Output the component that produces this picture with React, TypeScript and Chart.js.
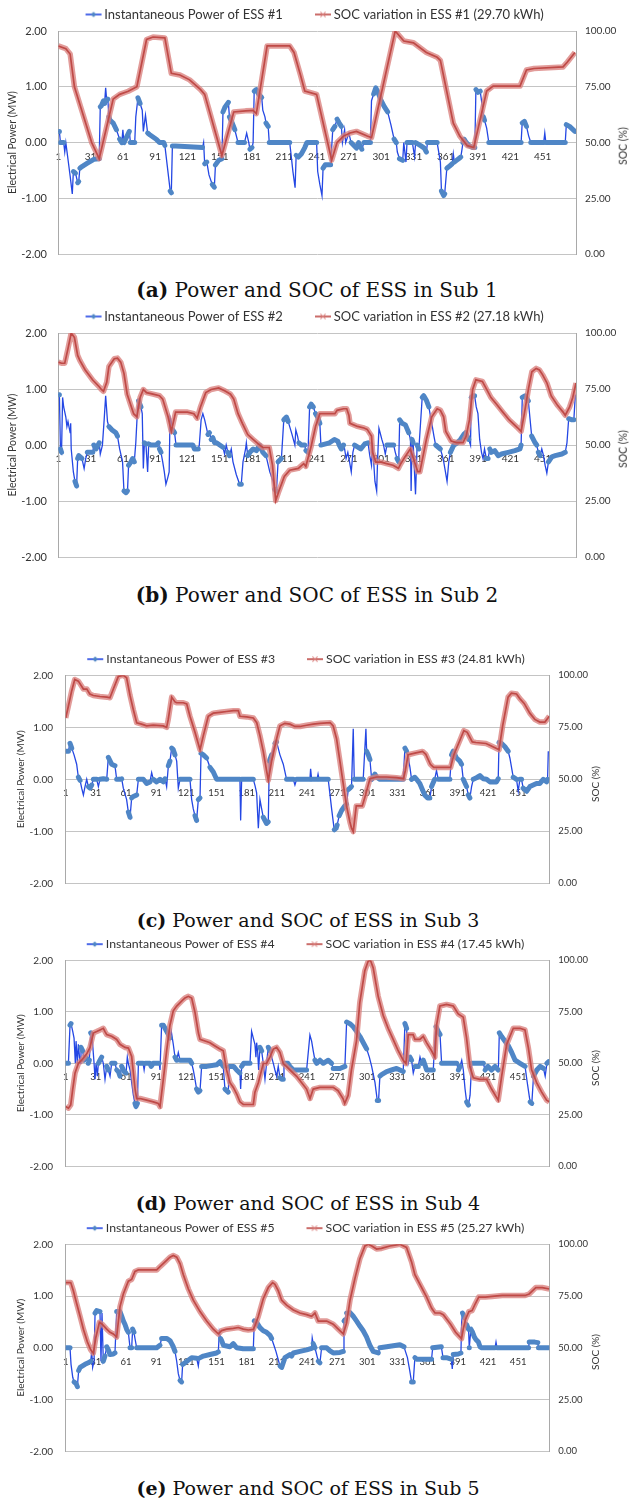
import React, { useEffect, useRef } from 'react';
import { Chart, registerables } from 'chart.js';

Chart.register(...registerables);

// ---------- shared axis values ----------
const X_MIN = 1;
const X_MAX = 482;
const X_TICK_LABELS = [1, 31, 61, 91, 121, 151, 181, 211, 241, 271, 301, 331, 361, 391, 421, 451];
const POWER_TICKS = [-2, -1, 0, 1, 2];
const SOC_TICKS = [0, 25, 50, 75, 100];

const POWER_LABELS = [
  'Instantaneous Power of ESS #1',
  'Instantaneous Power of ESS #2',
  'Instantaneous Power of ESS #3',
  'Instantaneous Power of ESS #4',
  'Instantaneous Power of ESS #5',
];
const SOC_LABELS = [
  'SOC variation in ESS #1 (29.70 kWh)',
  'SOC variation in ESS #2 (27.18 kWh)',
  'SOC variation in ESS #3 (24.81 kWh)',
  'SOC variation in ESS #4 (17.45 kWh)',
  'SOC variation in ESS #5 (25.27 kWh)',
];
const CAPTION_TAGS = ['(a)', '(b)', '(c)', '(d)', '(e)'];
const CAPTION_TEXTS = [
  'Power and SOC of ESS in Sub 1',
  'Power and SOC of ESS in Sub 2',
  'Power and SOC of ESS in Sub 3',
  'Power and SOC of ESS in Sub 4',
  'Power and SOC of ESS in Sub 5',
];
const LEFT_TITLE = 'Electrical Power (MW)';
const RIGHT_TITLE = 'SOC (%)';

// ---------- Sub 1 ----------
const SUB1_POWER: [number, number][] = [
  [1,0.2],[2,0.2],[3,0],[6,0],[7,-0.17],[8,0],[10,-0.3],[12,-0.6],[14,-0.92],[15,-0.52],[17,-0.55],[19,-0.72],[20,-0.7],[21,-0.46],[23,-0.43],[28,-0.37],[34,-0.3],[39,-0.29],
  [40,0.64],[41,0.66],[43,0.75],[44,0.7],[45,0.98],[46,0.75],[47,0.78],[48,0.46],[49,0.4],[52,0.35],[55,0.23],[58,0.06],[60,0],[61,0.23],[62,0],[65,0.12],[67,0.2],[68,0],[72,0],
  [73,0.46],[75,0.8],[77,0.7],[79,0.58],[80,0.2],[82,0.49],[84,0.17],[86,0.14],[92,0.06],[95,0],[99,0],[100,-0.05],[105,-0.87],[106,-0.9],[107,-0.06],[110,-0.06],[135,-0.09],[136,0],
  [137,-0.38],[139,-0.35],[141,-0.58],[144,-0.75],[146,-0.8],[147,-0.4],[150,-0.32],[153,-0.29],[154,0.55],[156,0.64],[159,0.72],[160,0.46],[162,0.38],[165,0.23],[168,0],[174,0],
  [176,0.17],[178,0],[179,-0.12],[181,-0.09],[182,0],[183,0.92],[185,0.95],[187,0.87],[190,0.81],[191,0.58],[193,0.46],[194,0.35],[196,0.29],[197,0],[216,0],[217,-0.17],[219,-0.52],
  [221,-0.81],[222,-0.23],[224,-0.26],[227,-0.2],[230,-0.09],[232,0],[241,0],[242,-0.52],[244,-0.75],[246,-0.95],[247,-0.46],[249,-0.4],[254,-0.4],[256,0.23],[258,0.29],[260,0.42],
  [262,0.35],[264,0.29],[265,0],[267,0.23],[268,0],[271,0.17],[273,0],[278,-0.1],[280,0],[283,-0.12],[285,0],[291,0],[292,0.75],[294,0.87],[296,0.98],[298,0.9],[301,0.75],[304,0.64],
  [307,0.55],[310,0.32],[313,0.06],[315,0],[316,-0.17],[318,-0.29],[321,-0.32],[322,0],[324,-0.35],[325,0],[330,0],[332,-0.25],[333,0],[338,-0.06],[341,-0.1],[343,-0.17],[344,0],
  [353,0],[356,-0.35],[357,-0.87],[359,-0.95],[360,-0.92],[362,-0.46],[364,-0.43],[367,-0.38],[368,-0.2],[369,-0.35],[371,-0.32],[373,-0.29],[375,-0.26],[377,0],[378,0.06],[380,0],
  [383,-0.06],[386,-0.09],[388,-0.09],[389,0.95],[391,0.9],[393,0.92],[395,0.64],[396,0.46],[397,0.4],[399,0.26],[401,0],[431,0],[432,0.35],[434,0.38],[436,0.29],[438,0.12],[440,0],
  [452,0],[453,0.17],[454,0],[472,0],[473,0.32],[476,0.29],[481,0.2],
];
const SUB1_SOC: [number, number][] = [
  [1,93.3],[8,92.1],[12,89.7],[16,75],[32,50],[39,42.8],[52,69.5],[58,71.6],[66,73],[74,75],[83,96.2],[89,97.3],[100,96.9],[106,81],[114,80.3],[123,78.1],[133,73.8],[137,71.6],
  [153,44.2],[164,63.7],[175,64.2],[182,64.4],[185,63],[195,93.3],[216,93.3],[220,90.4],[226,80.3],[230,73.1],[241,71.6],[255,42.1],[260,50],[266,52.9],[272,54.3],[278,55],
  [288,52.9],[292,52.2],[314,100],[322,95.5],[331,94.7],[343,90.4],[353,88.2],[356,86.8],[368,58.7],[374,52.9],[381,48.6],[387,47.8],[399,73.1],[405,75.3],[430,75.3],[436,82.5],
  [443,83.2],[470,83.9],[474,86.1],[481,90.4],
];

// ---------- Sub 2 ----------
const SUB2_POWER: [number, number][] = [
  [1,0.9],[2,0.9],[3,-0.07],[4,-0.13],[5,0.85],[6,0.68],[8,0.5],[9,0.33],[10,0.42],[12,0.22],[12.5,0.39],[13,-0.07],[15,-0.48],[16.5,-0.65],[18,-0.73],[19,-0.24],[20,-0.19],
  [23,-0.24],[25,-0.42],[26.5,-0.24],[28,-0.13],[33,-0.13],[34,0],[36,-0.07],[39,0.04],[40,-0.16],[42,0],[43.6,0.45],[45,0.88],[46.7,0.42],[48,0.33],[51,0.27],[54.5,0.22],[56,0.16],
  [58,-0.07],[60.7,-0.3],[62,-0.82],[64,-0.85],[65.3,-0.82],[66.3,-0.36],[68.5,-0.3],[70,-0.24],[71.6,-0.3],[73,0.04],[74.7,0.68],[75.6,0.79],[77.8,0.68],[79,0.56],[80,-0.42],
  [81,0.04],[82.4,0.02],[84,-0.48],[85,0.02],[87,0],[92,0],[94,0.04],[95,-0.07],[96.4,-0.13],[98,-0.3],[99.5,-0.48],[101,-0.7],[102.6,-0.59],[104,-0.48],[104.8,0.5],[106,0.42],
  [107.3,0.27],[109,0.22],[110.4,0],[126,0],[127.5,-0.07],[131,-0.07],[132,0],[133.7,0.45],[135.3,0.56],[137,0.45],[138.4,0.33],[140,0.19],[141.5,0.22],[143,0.1],[144.6,0.13],
  [146.2,0.04],[148,0.04],[151,0],[154,-0.04],[155.5,-0.16],[157,0],[158.6,-0.13],[160,-0.19],[161.7,-0.07],[163.3,-0.3],[166.4,-0.53],[169.5,-0.7],[171,-0.7],[172.6,-0.3],
  [175,-0.07],[175.7,0.04],[177,-0.19],[179,-0.13],[182,-0.07],[185,-0.1],[188,0],[191,-0.13],[194,-0.19],[197.5,-0.48],[200.6,-0.65],[202,-0.79],[203.7,-0.82],[205.2,-0.3],
  [208.3,-0.24],[210.5,0.45],[213,0.5],[214.6,0.42],[216,0.33],[218,0.2],[220.8,0],[221.7,0.27],[223.3,0.16],[224.5,0.04],[227,0],[230,0],[231,-0.1],[233,-0.13],[234.5,0.68],
  [236,0.73],[238,0.68],[240,0.56],[242,0.5],[244,0.39],[245,0],[253,0.04],[257.5,0.1],[260.7,0.07],[262,0],[264,-0.07],[266,0],[267,-0.07],[268.4,-0.24],[270,-0.13],[271.6,-0.3],
  [273.2,-0.48],[274.7,-0.13],[276.3,0],[282,-0.07],[285.7,0.02],[288.8,0.04],[290.4,-0.19],[292,-0.36],[292.9,0.04],[295.2,-0.65],[296.8,-0.82],[297.7,-0.24],[298.9,0.3],
  [300,0.22],[301.6,0.1],[303.2,0],[304.8,-0.16],[306.3,0],[312.6,0],[314.1,-0.13],[315.7,-0.24],[317.3,-0.3],[318.2,0.45],[320.4,0.39],[323.5,0.36],[326.6,0.22],[328.2,0.1],
  [328.8,-0.82],[329.7,0.1],[330.7,0.04],[332.9,-0.88],[334.4,0],[336,-0.07],[339.1,0.85],[340.5,0.88],[343.2,0.79],[345.3,0.68],[346.9,0.5],[348.5,0.33],[350,0.16],[351.6,0],
  [356,-0.07],[357.8,-0.19],[359.1,-0.3],[360.7,-0.48],[362.2,-0.65],[363.8,-0.3],[365.3,-0.13],[368.5,0],[371.6,0.04],[374.7,0.1],[377.8,0.19],[379.4,0.22],[382.4,0.1],[384,0],
  [384.6,0.85],[386.2,0.88],[387.8,0.88],[389.3,0.68],[390.9,0.56],[392.5,0.1],[394.2,-0.13],[395.6,-0.24],[397,-0.07],[398.7,-0.24],[400.3,-0.24],[401.9,-0.07],[403.4,-0.13],
  [406.5,-0.1],[409.7,-0.19],[412.8,-0.16],[419,-0.13],[425.2,-0.1],[429.9,-0.07],[431,0],[432.1,0.85],[434.6,0.88],[437.7,0.79],[440.8,0.16],[444,0.04],[445.5,0],[447,-0.13],
  [448.6,-0.19],[450.2,-0.07],[451.8,-0.19],[453.3,-0.36],[454.9,-0.5],[456.4,-0.3],[459.5,-0.21],[462.7,-0.19],[468.9,-0.16],[472,-0.13],[473.6,0.04],[475.2,0.47],[478.3,0.45],
  [480,0.45],[481.4,0.9],
];
const SUB2_SOC: [number, number][] = [
  [1,87],[4,86.5],[7,86.5],[10,93],[13,100],[16,98],[19,90],[21,87.8],[26,83.5],[33,79],[39,76],[41,74.8],[43,74],[46,78],[48,85],[53,88.5],[56,88.8],[59,87],[62,82],[65,72.7],
  [68,68.3],[71,64],[74,62.6],[77,71.2],[80,74.8],[83,73.4],[89,72.7],[95,72],[98,70.5],[103,62.6],[106,56.1],[110,64.7],[121,64.7],[127,64],[130,62],[133,66.9],[138,73.4],
  [143,74.8],[150,75.5],[156,74.1],[161,72.7],[164,70.5],[168,64],[172,59.7],[177,54.7],[182,52.5],[187,50.4],[191,48.9],[197,48.9],[200,41],[203,25.2],[206,29.5],[211,36],
  [216,38.8],[224,39.6],[229,41.7],[231,40.5],[236,49.6],[240,58.3],[244,64],[258,64],[260,65.5],[266,66.2],[269,66.2],[271,63.3],[272,59.7],[279,58.3],[285,57.6],[288,57],
  [292,54],[293,46.8],[296,42.4],[301,42.4],[306,41.7],[312,41],[317,39.6],[319,41.5],[322,43.9],[328,48.2],[335,38.1],[337,38.1],[343,52.5],[348,62.6],[353,66.2],[356,65.5],
  [359,62.6],[361,56.1],[366,51.8],[371,51.1],[377,51.1],[380,54],[383,61.2],[386,74.8],[389,79.1],[395,78.4],[399,74.8],[403,71.2],[408,68.3],[414,64.7],[420,61.2],[428,57.6],
  [431,56.1],[434,64],[438,75.5],[441,82.7],[445,84.2],[448,83.5],[451,81.3],[455,77.7],[459,71.9],[465,67.6],[470,64.7],[472,63.3],[476,66.9],[479,71.2],[482,77.7],
];

// ---------- Sub 3 ----------
const SUB3_POWER: [number, number][] = [
  [1,0.54],[3.7,0.54],[5.3,0.69],[7,0.6],[9.3,0.47],[11.9,0.29],[13.6,0.04],[15.3,-0.02],[16.9,-0.17],[18.6,-0.3],[20.2,-0.14],[21.9,0],[23.5,-0.14],[25.2,-0.17],[26.9,-0.11],
  [28.5,0],[31.8,0],[33.5,-0.14],[35.1,0],[38.4,0.01],[41.8,0],[43.4,0.42],[46.7,0.29],[50,0.26],[51.7,0],[55,0],[56.7,0.01],[58.3,-0.17],[61.6,-0.39],[63.3,-0.63],[65,-0.73],
  [66.6,-0.36],[68.3,-0.33],[71.6,-0.3],[73.3,0],[78.2,0],[81.5,-0.08],[84.8,-0.05],[86.5,0.13],[88.1,0],[91.5,-0.05],[94.8,0],[98.1,-0.05],[99.8,0.01],[101.4,-0.14],[103.1,0.26],
  [104.7,0.35],[106.4,0.6],[108,0.57],[109.7,0.47],[111.4,0.35],[113,-0.17],[114.7,0],[124.6,0],[126.3,-0.39],[127.9,-0.57],[129.6,-0.7],[131.2,-0.79],[132.9,-0.39],[134.6,-0.36],
  [135.6,0.5],[137.9,0.47],[141.2,0.41],[144.5,0.23],[147.8,0.14],[151.1,0],[174.3,0],[175,-0.79],[176,0],[187.6,0],[189.3,-0.12],[190.9,-0.26],[192.6,-0.94],[194.2,-0.39],
  [195.9,-0.57],[197.5,-0.73],[200.8,-0.85],[202.5,-0.82],[203.5,0.35],[205.8,0.47],[209.1,0.69],[210.8,0.72],[214.1,0.47],[217.4,0.29],[220.7,0],[227.4,0],[229,-0.11],[230.7,0],
  [243.9,0],[244.6,0.2],[245.6,0],[251,0],[252,0.1],[253,0],[262.1,0],[265.5,-0.57],[267.1,-0.82],[268.1,-0.97],[270,-0.94],[271,-0.88],[273,-0.7],[275.4,-0.6],[278.7,-0.51],
  [280.4,-0.48],[282,-0.2],[283.7,-0.17],[285.3,-0.14],[287,0.97],[288,0],[296.9,0],[299.6,0.97],[300.3,0.54],[302,0.47],[303.6,0.38],[305.3,0],[308.6,0.1],[310.2,0.04],
  [313.5,0],[336.7,0],[338.4,0.6],[340,0.54],[341.7,0.41],[343.4,0.23],[345,0],[348.3,0.04],[350,0],[353.2,-0.08],[358,-0.3],[361,-0.36],[363.2,-0.36],[364.9,-0.14],[368,0],
  [369.8,0.17],[371.5,0],[383.1,0],[384.8,0.47],[386.4,0.54],[389.7,0.41],[393,0.35],[394.7,0.29],[396.4,0],[399.7,-0.14],[401.4,-0.3],[403,-0.36],[404.7,-0.14],[406.4,0],
  [409.6,0.03],[413,0.07],[416.3,0.01],[419.6,0],[422.9,-0.05],[429.5,-0.05],[431.2,0.01],[432,0.71],[434.4,0.69],[437.7,0.63],[441.1,0.54],[442.8,0.41],[446.1,0.04],[449.4,0],
  [451.1,-0.23],[452.7,0],[454.4,0],[456,-0.17],[459.4,-0.23],[462.7,-0.14],[466,-0.11],[469.3,-0.08],[472.6,-0.08],[476,0],[479.3,-0.05],[480.3,0],[481,0.54],
];
const SUB3_SOC: [number, number][] = [
  [1,79.5],[3.6,85],[7,92.6],[10,98],[13.6,97.2],[18.6,93.4],[22,93.4],[25,91],[28.5,90.3],[35,89.8],[42,89.5],[45,89.2],[48.4,93.4],[53.4,99.5],[58.3,100],[61.6,98.8],[65,90.3],
  [68.3,83.4],[71.6,77.2],[76.5,76.5],[81.5,75.7],[88,76],[98,75.7],[101.4,75],[103,78.8],[106.4,89.5],[109.7,87.2],[111.4,86.8],[118,86.8],[121.4,86.2],[124.6,80.3],[129.6,72.6],
  [134.6,64.2],[137.9,71],[142.8,80.3],[147.8,81.8],[154.5,82.2],[161,82.6],[167.7,83],[172.7,83],[174.3,80.3],[181,80],[187.6,79.5],[191,77.2],[194.2,71],[197.5,63.4],[200.8,54.2],
  [202.5,49.5],[205.8,58.8],[210.8,69.5],[214.1,75.7],[219,76.9],[224,76.5],[229,75.4],[234,75.4],[240.6,76],[247,76.5],[254,76.9],[264,77.2],[267,75.7],[270.4,69.5],[273.7,58.8],
  [277,48],[280.3,37.2],[283.7,29.5],[285.3,26.5],[287,24.9],[290,37.2],[296,37.2],[299.3,42.6],[303.6,50.3],[310.3,51.1],[320,51.1],[330,50.8],[337,50.3],[338.7,54],[341.6,61.8],
  [348.3,62.6],[355.9,63.4],[359.2,62],[363.7,57.2],[367,55.7],[383.8,55.7],[387.1,61.8],[393.7,69.5],[397,73.4],[400.4,72.6],[405.4,68],[409,67.7],[419,67.2],[422.3,66.5],
  [429,64.9],[432,64.2],[435.6,75.7],[441,89.5],[444.3,91.4],[449.4,91],[452.7,88.8],[457,86.5],[462.6,81.8],[467.6,78.8],[472.6,77.5],[477.6,77.5],[482,80.3],
];

// ---------- Sub 4 ----------
const SUB4_POWER: [number, number][] = [
  [1,0],[3.7,0],[5.3,0.74],[6.3,0.77],[8,0.62],[9.3,0.49],[10.6,0],[11.3,0.43],[12.6,0],[13.6,0.37],[15.3,0],[16.2,0.31],[17.9,0.24],[19.2,0.06],[20.6,0.12],[22.5,0.09],[23.5,0],
  [24.5,0.06],[25.9,0.59],[26.9,0.56],[27.8,0.37],[29.2,0],[30.2,-0.31],[31.2,0],[32.5,-0.25],[33.5,0],[35.1,0.06],[36.8,0.12],[38.4,0],[40.1,-0.31],[41.8,-0.06],[43.4,-0.13],
  [45.1,-0.25],[46.7,0],[50,0],[51.7,-0.13],[53.4,-0.16],[55,-0.25],[56.7,-0.06],[59,-0.16],[61,-0.19],[62.3,0.12],[63.3,0],[65,-0.13],[66.6,-0.37],[68.3,-0.62],[69.9,-0.78],
  [70.9,-0.84],[72.3,-0.78],[73.3,0],[78,0],[79,-0.13],[80,0],[84.8,0],[86,-0.06],[88,0],[94,0],[94.8,-0.13],[96.4,0.74],[98.1,0.74],[99.8,0.68],[101.4,0.62],[103.1,0.56],
  [104.7,0.49],[106,0.62],[108,0.37],[109.7,0.12],[111.4,0.06],[113,0.21],[114.7,0.06],[124.6,0.06],[126.3,0],[127.9,-0.13],[129.6,-0.31],[131.2,-0.5],[132.9,-0.56],[134.6,-0.53],
  [136.2,-0.06],[141.2,-0.06],[151.1,-0.03],[154.4,0.03],[157.7,-0.06],[159.4,-0.5],[161.1,-0.53],[162.7,-0.56],[163.7,-0.06],[168,-0.06],[171,-0.13],[174.3,-0.19],[175,-0.5],
  [176,-0.06],[178,0],[184.3,0],[185.9,0.62],[187.6,0.49],[189.2,0.37],[190.2,0.12],[190.9,0.4],[191.9,0.24],[192.9,-0.13],[194.2,0.31],[195.9,0.24],[197.5,0],[199.2,-0.31],
  [200.8,0],[202.5,0.31],[204.2,0.24],[205.8,0.12],[207.5,0],[209.1,-0.13],[210.8,-0.25],[212.4,-0.06],[214.1,-0.28],[215.8,-0.31],[217.4,-0.31],[218.1,0],[222,0],[224,-0.06],
  [227.4,-0.13],[240.6,-0.13],[243.9,0.55],[245.6,0.43],[247.2,0.24],[248.9,0.06],[250.6,0],[253.9,0.06],[257.2,0],[262.2,0.06],[265.5,0],[267.1,-0.1],[273.8,-0.1],[278.7,-0.06],
  [280.4,0.8],[283.7,0.77],[287,0.71],[290.3,0.62],[293.7,0.52],[297,0.4],[300.3,0.28],[303,0.12],[305.3,-0.06],[308.6,-0.37],[310.9,-0.72],[312.2,-0.72],[313.5,-0.25],
  [315.2,-0.22],[320.2,-0.16],[325.1,-0.13],[330.1,-0.1],[333.4,-0.13],[336.7,-0.16],[338.4,0.77],[340.1,0.68],[341.7,0],[343.4,0.12],[345,0.06],[346.7,-0.19],[348.4,-0.06],
  [351.7,-0.06],[353.4,0.12],[355,0],[356.7,0.06],[358.3,-0.03],[360,-0.13],[366.6,-0.13],[368.3,0.52],[369.3,0.71],[371.6,0.62],[373.3,0.56],[374.9,0],[389.9,0],[391.6,-0.13],
  [393.2,-0.06],[394.9,0.06],[396.5,-0.13],[398.2,-0.5],[399.8,-0.75],[401.5,-0.81],[403.2,-0.62],[404.8,0],[416.4,0],[418.1,-0.13],[421,-0.06],[424.5,-0.13],[428,-0.06],
  [431.3,-0.13],[432.3,0.59],[434.6,0.52],[438,0.43],[441.3,0.34],[444.6,0.21],[448,0.06],[452.9,0],[457.9,-0.06],[459.6,-0.31],[462.9,-0.75],[464.6,-0.78],[466.3,-0.25],
  [469.6,-0.13],[472.9,-0.06],[476.2,-0.1],[477.9,-0.25],[479.6,0],[481.2,0.03],
];
const SUB4_SOC: [number, number][] = [
  [1,29],[3.7,28.2],[6,29.8],[8,37.5],[10.3,45.3],[13.6,49.9],[16.9,51.5],[21.9,54.6],[25.2,57.7],[28.5,64.7],[31.8,65.4],[35.1,66.2],[38.4,67],[40.1,65.4],[41.8,63.9],[46.7,63.1],
  [51.7,61.6],[55,59.2],[60,57.7],[63.3,57.4],[66.6,53.3],[70,37.5],[71.6,32.9],[74.9,32.9],[81.5,32.1],[88.1,31.3],[93.1,30.5],[94.8,29],[98.1,42.2],[101.4,56.1],[104.7,68.5],
  [108,75.5],[111.4,77.8],[116.3,80.2],[119.6,81.7],[123,82.5],[126.3,81.7],[129.6,74.7],[133,64.7],[134.6,61.6],[139.6,60.8],[144.5,60],[149.5,58.4],[154.4,56.9],[157.7,56.1],
  [161,46.8],[164.4,40.6],[167.7,38.3],[171,35.2],[174.3,31.3],[177.7,30],[187.6,30],[189.2,36],[192.6,40.6],[197.5,49.9],[200.8,49.9],[204.1,53],[207.5,56.9],[210.8,57.7],
  [214.1,55.3],[217.4,49.9],[220.7,48.4],[225.7,46],[230.7,43.7],[235.7,40.6],[240.6,37.5],[244,32.9],[247.2,37.5],[253.9,38.3],[267,38.3],[271.9,36.7],[276.8,32.9],[278.5,30.5],
  [281.9,34.4],[285.2,46.8],[290.2,60.8],[293.5,79.4],[298.5,94.9],[301.8,99.5],[304.1,100],[306.8,96.4],[311.8,82.5],[316.8,73.2],[321.7,67],[326.7,61.6],[331.7,56.1],
  [336.7,51.5],[339.4,49.9],[341.7,63.9],[346.6,63.9],[348.3,61.6],[353.3,61.6],[356.6,63.1],[359.9,60],[364.9,56.1],[368.2,53],[369.9,68.5],[373.2,77.8],[379.8,78.6],[386.5,77.8],
  [391.4,74],[396.4,72.4],[399.7,62.3],[403,48.4],[406.4,43],[413,42.2],[419.6,42.2],[424.6,37.5],[431.2,32.1],[434.6,43.7],[439.6,59.2],[446.2,67],[452.8,67],[457.8,66.2],
  [461.1,57.7],[464.4,46.8],[469.4,40.6],[474.4,36],[479.3,32.1],[482,31.3],
];

// ---------- Sub 5 ----------
const SUB5_POWER: [number, number][] = [
  [1,0],[5.3,0],[6.3,-0.32],[8,-0.57],[9.3,-0.66],[11.3,-0.69],[12.6,-0.75],[13.9,-0.44],[15.3,-0.38],[20.2,-0.32],[23.5,-0.29],[25.9,-0.26],[26.9,-0.07],[27.8,-0.38],[29.2,-0.26],
  [30.2,0.67],[31.8,0.72],[35.1,0.7],[36.1,-0.26],[37.1,0.67],[38.4,-0.26],[40.1,-0.16],[41.8,0.02],[43.4,-0.04],[45.1,-0.13],[48.4,-0.12],[50,-0.1],[51.7,0.7],[55,0.7],
  [56.7,0.61],[58.3,0.52],[60,0.45],[61.6,0.36],[63.3,0.3],[65,0],[66.6,0],[67.6,0.36],[68.9,0.3],[69.9,0.18],[71.6,0],[91.5,0],[94.8,0.05],[96.4,0.18],[101.4,0.18],[104.7,0.14],
  [106.4,0.08],[108,0.02],[109.7,-0.07],[111.4,-0.26],[113,-0.5],[114.7,-0.63],[116.3,-0.66],[117.3,-0.32],[119.6,-0.29],[126.3,-0.19],[131.2,-0.2],[132.9,-0.35],[133.9,-0.2],
  [137.9,-0.16],[144.5,-0.13],[151.1,-0.1],[152.8,-0.08],[153.8,0.3],[155.1,0.18],[156.1,0.14],[157.8,0.05],[164.4,0.02],[167.7,0.08],[171,0],[177.6,-0.02],[187.6,-0.02],
  [188.6,0.52],[190.9,0.49],[194.2,0.39],[197.5,0.33],[200.8,0.3],[204.2,0.24],[205.8,0.18],[208.1,0.05],[210.1,-0.07],[212.4,-0.23],[214.1,-0.35],[215.8,-0.38],[217.4,-0.29],
  [219.1,-0.19],[224,-0.13],[225.7,-0.16],[227.4,-0.1],[234,-0.07],[240.6,-0.04],[245.6,-0.01],[246.2,0.19],[247.2,0.08],[248.9,0],[252.2,-0.26],[253.9,-0.29],[255.5,0],
  [260.6,0],[263.9,-0.06],[267.1,-0.1],[273.8,-0.09],[277.1,-0.07],[277.8,0.52],[278.8,0.54],[280.4,0.67],[283.8,0.68],[287,0.61],[290.2,0.52],[293.6,0.42],[296.9,0.33],
  [300.2,0.21],[303.5,0.05],[306.9,-0.07],[311.9,-0.1],[313.5,0],[320.2,0.02],[326.8,0.04],[333.4,0.06],[337.5,0.02],[338.9,-0.07],[340.9,-0.19],[343.2,-0.44],[345,-0.66],
  [346.7,-0.66],[348.3,-0.19],[350,-0.22],[364.9,-0.22],[366,0],[374.6,0.02],[376.3,-0.19],[379.6,-0.19],[384.5,-0.22],[385.5,-0.41],[386.5,-0.13],[391.5,-0.12],[394.1,-0.1],
  [394.8,0.49],[395.7,0.67],[397.7,0.58],[399.7,0.45],[401.7,0.36],[402.4,0],[403,0],[404,0.36],[405.7,0.3],[407.4,0.21],[409,0.16],[411.5,0.11],[413.1,0.02],[414.8,0],[428,0],
  [429,0.11],[430,0],[461.4,0],[462,0.11],[467.6,0.11],[470.6,0.1],[471.2,0],[482,0],
];
const SUB5_SOC: [number, number][] = [
  [1,81.5],[6,81.5],[8.6,77.6],[11.9,71.4],[15.3,65.2],[18.6,59],[22.5,52.9],[25.9,49],[28.5,47.4],[31,55],[34.5,62.3],[37,61.5],[41.8,59],[45.1,57.5],[48.4,56.7],[51.7,55.2],
  [55,69.9],[58.3,76],[63.3,82.2],[66.6,83],[69.9,86.9],[73.2,87.6],[91.5,87.6],[94.8,89.2],[99.8,91.5],[104.7,93.8],[108,94.6],[111.4,93.8],[114.7,90.7],[118,85.3],[123,78.4],
  [127.9,73],[134.6,67.5],[141.2,62.9],[147.8,59],[152.8,56.7],[156.1,58.3],[161.1,59],[167.7,59.4],[172.7,59.8],[177.6,59],[182.6,58.6],[187.6,58.9],[189.2,60.6],[192.6,65.2],
  [197.5,73.7],[202.5,79.1],[206.8,81.5],[209.1,80.7],[212.4,77.6],[215.8,73],[220.7,70.6],[227.4,68.3],[234,66.8],[240.6,66],[245.6,65.2],[248.9,66.8],[252.2,62.9],[260.6,62.9],
  [267.1,61.4],[272.1,59],[277.1,56.7],[280.4,62.1],[283.8,73],[288.8,83.8],[293.6,93],[298.6,99.2],[302,100],[305.5,99.2],[310.2,97.7],[315,98],[323.5,99.2],[333.4,100],
  [340,98.5],[345,91.5],[348.3,85.3],[353.3,80.7],[360,74.5],[365,69.1],[368.3,66.8],[373.3,66.8],[376.6,66],[383.8,61.4],[388.8,57.5],[394.7,54.4],[396.4,59],[398.6,63.7],
  [402,67.5],[405.2,68],[408.5,71.4],[411.8,74.5],[418.5,74.5],[425,74.8],[435.2,75.3],[458,75.3],[462,76],[468.6,79.1],[475,79.1],[482,78.4],
];

const POWER_SERIES = [SUB1_POWER, SUB2_POWER, SUB3_POWER, SUB4_POWER, SUB5_POWER];
const SOC_SERIES = [SUB1_SOC, SUB2_SOC, SUB3_SOC, SUB4_SOC, SUB5_SOC];

// ---------- styles ----------
const BLUE_LINE = '#2447e4';
const BLUE_BAND = '#4f86c6';
const RED_LINE = '#bf4a47';
const RED_HALO = 'rgba(218,128,126,0.78)';
const GRID = '#c4c4c4';
const AXIS = '#a9a9a9';
const TEXT = '#333333';
const FONT = 'Lato';
const W = 629;
const LEG_PAD = 4;

type Layout = {
  plotTop: number; plotBottom: number; plotLeft: number; plotRight: number;
  legendCx: number; legFs: number; yFs: number; y2Fs: number; xFs: number; titleFs: number;
  leftTitleX: number; rightTitleX: number; capFs: number; capCx: number; capCy: number;
};

const LAYOUTS: Layout[] = [
  { plotTop: 30.7, plotBottom: 261.7, plotLeft: 58.3, plotRight: 576, legendCx: 314.5, legFs: 13, yFs: 11, y2Fs: 10, xFs: 10, titleFs: 10.5, leftTitleX: 13, rightTitleX: 623, capFs: 20, capCx: 317, capCy: 290 },
  { plotTop: 333.3, plotBottom: 565, plotLeft: 58.3, plotRight: 576, legendCx: 314.5, legFs: 13, yFs: 11, y2Fs: 10, xFs: 10, titleFs: 10.5, leftTitleX: 13, rightTitleX: 623, capFs: 20, capCx: 317, capCy: 595 },
  { plotTop: 675.3, plotBottom: 892, plotLeft: 65.7, plotRight: 549.3, legendCx: 306, legFs: 12.3, yFs: 10, y2Fs: 9.5, xFs: 9.5, titleFs: 10, leftTitleX: 20.7, rightTitleX: 595, capFs: 19, capCx: 308, capCy: 920 },
  { plotTop: 960.3, plotBottom: 1175.3, plotLeft: 65.7, plotRight: 549.3, legendCx: 305.5, legFs: 12.3, yFs: 10, y2Fs: 9.5, xFs: 9.5, titleFs: 10, leftTitleX: 20.7, rightTitleX: 595, capFs: 19, capCx: 308, capCy: 1203 },
  { plotTop: 1244.3, plotBottom: 1460, plotLeft: 65.7, plotRight: 549.3, legendCx: 305.5, legFs: 12.3, yFs: 10, y2Fs: 9.5, xFs: 9.5, titleFs: 10, leftTitleX: 20.7, rightTitleX: 595, capFs: 19, capCx: 308, capCy: 1488 },
];

function legendBoxWidth(fs: number) {
  // visible gap between legend items ~32px
  return 32 + 19 - LEG_PAD - fs / 2;
}

function legendImage(kind: 'power' | 'soc', boxW: number, fs: number) {
  const c = document.createElement('canvas');
  const w = Math.round(boxW + fs);
  c.width = w;
  c.height = 10;
  const g = c.getContext('2d')!;
  const x1 = w - 3;
  const x0 = x1 - 16;
  const y = 5;
  g.lineWidth = 1.6;
  g.strokeStyle = kind === 'power' ? BLUE_LINE : RED_LINE;
  g.beginPath();
  g.moveTo(x0, y);
  g.lineTo(x1, y);
  g.stroke();
  const cx = (x0 + x1) / 2;
  if (kind === 'power') {
    g.fillStyle = BLUE_BAND;
    g.beginPath();
    g.moveTo(cx, y - 2.8);
    g.lineTo(cx + 2.8, y);
    g.lineTo(cx, y + 2.8);
    g.lineTo(cx - 2.8, y);
    g.closePath();
    g.fill();
  } else {
    g.strokeStyle = RED_HALO;
    g.lineWidth = 1.3;
    g.beginPath();
    g.moveTo(cx - 2.6, y - 2.6);
    g.lineTo(cx + 2.6, y + 2.6);
    g.moveTo(cx + 2.6, y - 2.6);
    g.lineTo(cx - 2.6, y + 2.6);
    g.stroke();
  }
  return c;
}

const legendShift = {
  id: 'legendShift',
  afterLayout(chart: any, _args: any, opts: any) {
    const lg = chart.legend;
    if (lg && opts && typeof opts.dx === 'number') {
      lg.left += opts.dx;
      lg.right += opts.dx;
    }
  },
};

function isFlat(ctx: any) {
  const dx = Math.abs(ctx.p1.x - ctx.p0.x);
  const dy = Math.abs(ctx.p1.y - ctx.p0.y);
  return dy <= 2.2 * dx + 1.5;
}

function Panel({ index }: { index: number }) {
  const ref = useRef<HTMLCanvasElement>(null);
  const L = LAYOUTS[index];
  const legendH = L.legFs + LEG_PAD + 10;
  const top = Math.round(L.plotTop - legendH);
  const height = Math.round(L.plotBottom + 10 - top);

  useEffect(() => {
    const canvas = ref.current;
    if (!canvas) return;
    const boxW = legendBoxWidth(L.legFs);
    const naturalCenter = (W + boxW + L.legFs / 2 - 19) / 2;
    const dx = L.legendCx - naturalCenter;
    const power = POWER_SERIES[index];
    const soc = SOC_SERIES[index];
    const chart = new Chart(canvas, {
      type: 'line',
      data: {
        datasets: [
          {
            label: POWER_LABELS[index],
            data: power as any,
            yAxisID: 'y',
            borderColor: BLUE_LINE,
            borderWidth: 1.3,
            pointRadius: 0,
            pointStyle: legendImage('power', boxW, L.legFs) as any,
            order: 3,
          },
          {
            label: '',
            data: power as any,
            yAxisID: 'y',
            borderColor: BLUE_BAND,
            borderWidth: 5,
            borderCapStyle: 'round',
            borderJoinStyle: 'round',
            pointRadius: 0,
            segment: { borderColor: (c: any) => (isFlat(c) ? BLUE_BAND : 'rgba(0,0,0,0)') },
            order: 2,
          },
          {
            label: SOC_LABELS[index],
            data: soc as any,
            yAxisID: 'y2',
            borderColor: RED_LINE,
            borderWidth: 1.7,
            pointRadius: 0,
            pointStyle: legendImage('soc', boxW, L.legFs) as any,
            order: 0,
          },
          {
            label: '',
            data: soc as any,
            yAxisID: 'y2',
            borderColor: RED_HALO,
            borderWidth: 5.5,
            borderJoinStyle: 'round',
            pointRadius: 0,
            order: 1,
          },
        ],
      },
      options: {
        responsive: false,
        animation: false,
        devicePixelRatio: 1,
        layout: { padding: { left: 0, right: 0, top: 0, bottom: 10 } },
        plugins: {
          tooltip: { enabled: false },
          legend: {
            display: true,
            position: 'top',
            labels: {
              usePointStyle: true,
              pointStyleWidth: boxW,
              padding: LEG_PAD,
              color: TEXT,
              font: { family: FONT, size: L.legFs },
              filter: (item: any) => !!item.text,
              sort: (a: any, b: any) => a.datasetIndex - b.datasetIndex,
            },
          },
          legendShift: { dx },
        } as any,
        scales: {
          x: {
            type: 'linear',
            min: X_MIN,
            max: X_MAX,
            position: { y: 0 } as any,
            afterBuildTicks: (axis: any) => {
              axis.ticks = X_TICK_LABELS.map((v) => ({ value: v }));
            },
            grid: { drawOnChartArea: false, drawTicks: false },
            border: { display: true, color: GRID, width: 1 },
            ticks: {
              autoSkip: false,
              maxRotation: 0,
              minRotation: 0,
              padding: 8,
              color: TEXT,
              font: { family: FONT, size: L.xFs },
              callback: (v: any) => String(v),
            },
          },
          y: {
            type: 'linear',
            position: 'left',
            min: -2,
            max: 2,
            afterBuildTicks: (axis: any) => {
              axis.ticks = POWER_TICKS.map((v) => ({ value: v }));
            },
            afterFit: (s: any) => {
              s.width = L.plotLeft;
            },
            grid: { color: GRID, drawTicks: false, lineWidth: 1 },
            border: { display: true, color: AXIS, width: 1 },
            ticks: {
              padding: L.plotLeft - (index < 2 ? 47 : 53),
              color: TEXT,
              font: { family: FONT, size: L.yFs },
              callback: (v: any) => Number(v).toFixed(2),
            },
            title: {
              display: true,
              text: LEFT_TITLE,
              color: TEXT,
              font: { family: FONT, size: L.titleFs },
              padding: { top: L.leftTitleX - (L.titleFs * 1.2) / 2, bottom: 0 },
            },
          },
          y2: {
            type: 'linear',
            position: 'right',
            min: 0,
            max: 100,
            afterBuildTicks: (axis: any) => {
              axis.ticks = SOC_TICKS.map((v) => ({ value: v }));
            },
            afterFit: (s: any) => {
              s.width = W - L.plotRight;
            },
            grid: { drawOnChartArea: false, drawTicks: false },
            border: { display: true, color: AXIS, width: 1 },
            ticks: {
              padding: 9,
              color: TEXT,
              font: { family: FONT, size: L.y2Fs },
              callback: (v: any) => Number(v).toFixed(2),
            },
          },
        },
      },
      plugins: [legendShift as any],
    });
    return () => chart.destroy();
  }, [index]);

  const midY = (L.plotTop + L.plotBottom) / 2;
  return (
    <>
      <canvas
        ref={ref}
        width={W}
        height={height}
        style={{ position: 'absolute', left: 0, top, width: W, height, display: 'block' }}
      />
      <div
        style={{
          position: 'absolute',
          left: L.rightTitleX,
          top: midY,
          transform: 'translate(-50%, -50%) rotate(-90deg)',
          fontFamily: FONT,
          fontSize: L.titleFs,
          color: TEXT,
          whiteSpace: 'nowrap',
          lineHeight: 1,
        }}
      >
        {RIGHT_TITLE}
      </div>
      <div
        style={{
          position: 'absolute',
          left: L.capCx,
          top: L.capCy,
          transform: 'translate(-50%, -50%)',
          fontFamily: '"DejaVu Serif", serif',
          fontSize: L.capFs,
          color: '#111',
          whiteSpace: 'nowrap',
          lineHeight: 1.1,
        }}
      >
        <b>{CAPTION_TAGS[index]}</b> {CAPTION_TEXTS[index]}
      </div>
    </>
  );
}

export default function App() {
  return (
    <div style={{ position: 'absolute', left: 0, top: 0, width: W, height: 1502, background: '#fff', overflow: 'hidden' }}>
      {[0, 1, 2, 3, 4].map((i) => (
        <Panel key={i} index={i} />
      ))}
    </div>
  );
}
